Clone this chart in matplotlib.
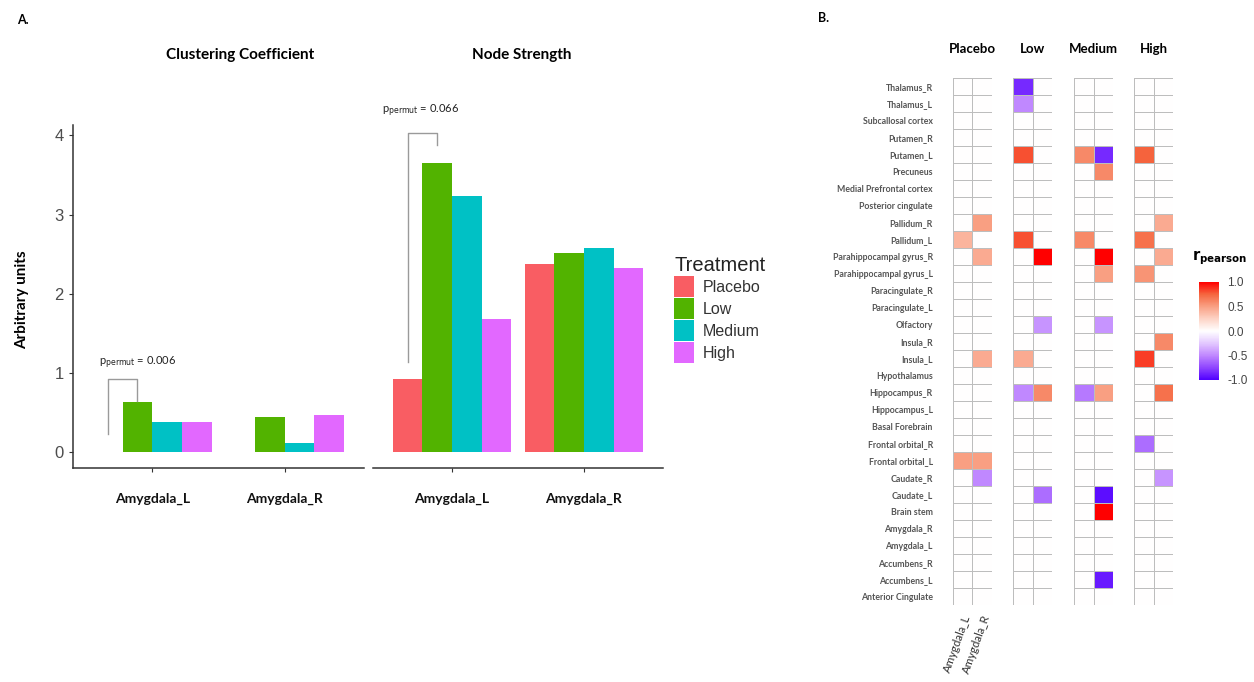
import numpy as np
import matplotlib
matplotlib.use("Agg")
import matplotlib.pyplot as plt
from matplotlib.colors import LinearSegmentedColormap
from matplotlib.patches import Patch

# ---------------- data ----------------
treatments = ["Placebo", "Low", "Medium", "High"]
bar_colors = ["#F95D63", "#52B300", "#00C1C5", "#E268FF"]
regions_bar = ["Amygdala_L", "Amygdala_R"]

cc_amyg_L = [np.nan, 0.63, 0.38, 0.38]
cc_amyg_R = [np.nan, 0.44, 0.11, 0.47]
ns_amyg_L = [0.92, 3.65, 3.24, 1.68]
ns_amyg_R = [2.38, 2.51, 2.58, 2.33]

p_cc = "0.006"
p_ns = "0.066"

rows = ["Thalamus_R", "Thalamus_L", "Subcallosal cortex", "Putamen_R", "Putamen_L",
        "Precuneus", "Medial Prefrontal cortex", "Posterior cingulate", "Pallidum_R",
        "Pallidum_L", "Parahippocampal gyrus_R", "Parahippocampal gyrus_L",
        "Paracingulate_R", "Paracingulate_L", "Olfactory", "Insula_R", "Insula_L",
        "Hypothalamus", "Hippocampus_R", "Hippocampus_L", "Basal Forebrain",
        "Frontal orbital_R", "Frontal orbital_L", "Caudate_R", "Caudate_L",
        "Brain stem", "Amygdala_R", "Amygdala_L", "Accumbens_R", "Accumbens_L",
        "Anterior Cingulate"]
cols = ["Amygdala_L", "Amygdala_R"]

#                 ThR  ThL  Sub  PuR  PuL  Pre  mPF  PCC  PaR  PaL  PhR  PhL  PcR  PcL  Olf  InR  InL  Hyp  HiR  HiL  BF   FoR  FoL  CaR  CaL  BS   AmR  AmL  AcR  AcL  ACC
placebo_L = [0,   0,   0,   0,   0,   0,   0,   0,   0,   0.4, 0,   0,   0,   0,   0,   0,   0,   0,   0,   0,   0,   0,   0.5, 0,   0,   0,   0,   0,   0,   0,   0]
placebo_R = [0,   0,   0,   0,   0,   0,   0,   0,   0.5, 0,   0.45,0,   0,   0,   0,   0,   0.45,0,   0,   0,   0,   0,   0.5, -0.5,0,   0,   0,   0,   0,   0,   0]
low_L     = [-0.85,-0.5,0,  0,   0.8, 0,   0,   0,   0,   0.8, 0,   0,   0,   0,   0,   0,   0.45,0,   -0.5,0,   0,   0,   0,   0,   0,   0,   0,   0,   0,   0,   0]
low_R     = [0,   0,   0,   0,   0,   0,   0,   0,   0,   0,   1.0, 0,   0,   0,   -0.45,0,  0,   0,   0.6, 0,   0,   0,   0,   0,   -0.6,0,   0,   0,   0,   0,   0]
medium_L  = [0,   0,   0,   0,   0.6, 0,   0,   0,   0,   0.6, 0,   0,   0,   0,   0,   0,   0,   0,   -0.55,0,  0,   0,   0,   0,   0,   0,   0,   0,   0,   0,   0]
medium_R  = [0,   0,   0,   0,   -0.85,0.6,0,   0,   0,   0,   1.0, 0.5, 0,   0,   -0.45,0,  0,   0,   0.5, 0,   0,   0,   0,   0,   -0.95,1.0, 0,   0,   0,   -0.9,0]
high_L    = [0,   0,   0,   0,   0.75,0,   0,   0,   0,   0.7, 0,   0.55,0,   0,   0,   0,   0.85,0,   0,   0,   0,   -0.6,0,   0,   0,   0,   0,   0,   0,   0,   0]
high_R    = [0,   0,   0,   0,   0,   0,   0,   0,   0.45,0,   0.45,0,   0,   0,   0,   0.6, 0,   0,   0.7, 0,   0,   0,   0,   -0.45,0,  0,   0,   0,   0,   0,   0]

heat_groups = {"Placebo": (placebo_L, placebo_R), "Low": (low_L, low_R),
               "Medium": (medium_L, medium_R), "High": (high_L, high_R)}

# ---------------- figure ----------------
W, H = 1254, 682
plt.rcParams["font.family"] = ["Lato", "DejaVu Sans"]
fig = plt.figure(figsize=(W / 100, H / 100), dpi=100)


def rect(x0, y0, x1, y1):
    return [x0 / W, 1 - y1 / H, (x1 - x0) / W, (y1 - y0) / H]


def fx(x):
    return x / W


def fy(y):
    return 1 - y / H


ymin, ymax = -0.2, 4.13
offsets = np.array([-0.3375, -0.1125, 0.1125, 0.3375])
bw = 0.225
xpos = np.arange(1, len(regions_bar) + 1)

ax1 = fig.add_axes(rect(73, 125, 364, 468))
ax2 = fig.add_axes(rect(373, 125, 663, 468))

for ax, (vl, vr) in ((ax1, (cc_amyg_L, cc_amyg_R)), (ax2, (ns_amyg_L, ns_amyg_R))):
    for i, t in enumerate(treatments):
        vals = [vl[i], vr[i]]
        ax.bar(xpos + offsets[i], vals, width=bw, color=bar_colors[i], label=t)
    ax.set_xlim(0.4, 2.6)
    ax.set_ylim(ymin, ymax)
    ax.set_xticks(xpos)
    ax.set_xticklabels(regions_bar, fontsize=10, fontweight="bold", color="#111111")
    ax.tick_params(axis="x", length=3, width=0.8, color="#333333", pad=15)
    for s in ["top", "right"]:
        ax.spines[s].set_visible(False)
    ax.spines["bottom"].set_color("#333333")
    ax.spines["bottom"].set_linewidth(1.1)

ax1.spines["left"].set_color("#333333")
ax1.spines["left"].set_linewidth(1.1)
ax1.set_yticks([0, 1, 2, 3, 4])
ax1.tick_params(axis="y", length=3, width=0.8, color="#333333", labelsize=12,
                labelcolor="#4D4D4D", labelfontfamily="Liberation Sans")
ax2.spines["left"].set_visible(False)
ax2.set_yticks([])

# significance brackets
gray = "#9A9A9A"
x_left = 1 + offsets[0]
x_right = 1 + offsets[1]
ax1.plot([x_left, x_left, x_right, x_right], [0.23, 0.92, 0.92, 0.65], color=gray, lw=1)
ax1.text(0.60, 1.13, r"p$_{\mathrm{permut}}$ = " + p_cc, fontsize=8, color="#222222",
         va="center", ha="left")
ax2.plot([x_left, x_left, x_right, x_right], [1.14, 4.03, 4.03, 3.88], color=gray, lw=1,
         clip_on=False)
ax2.text(0.47, 4.31, r"p$_{\mathrm{permut}}$ = " + p_ns, fontsize=8, color="#222222",
         va="center", ha="left", clip_on=False)

fig.text(fx(240), fy(55), "Clustering Coefficient", fontsize=11, fontweight="bold",
         ha="center", va="center")
fig.text(fx(522), fy(55), "Node Strength", fontsize=11, fontweight="bold",
         ha="center", va="center")
fig.text(fx(22), fy(300), "Arbitrary units", fontsize=11, fontweight="bold",
         rotation=90, ha="center", va="center")
fig.text(fx(17), fy(20), "A.", fontsize=9, fontweight="bold", ha="left", va="center")
fig.text(fx(818), fy(18), "B.", fontsize=9, fontweight="bold", ha="left", va="center")

handles = [Patch(facecolor=c, edgecolor="none") for c in bar_colors]
leg = fig.legend(handles, treatments, loc="upper left",
                 bbox_to_anchor=(fx(668), fy(250)), frameon=False,
                 title="Treatment", title_fontsize=14.5,
                 handlelength=1.25, handleheight=1.64, handletextpad=0.55,
                 labelspacing=0.06, borderaxespad=0,
                 prop={"family": "Liberation Sans", "size": 11.5})
leg.get_title().set_family("Liberation Sans")
leg.get_title().set_color("#222222")
for t in leg.get_texts():
    t.set_color("#333333")
leg._legend_box.align = "left"

# ---------------- heatmap ----------------
cmap = LinearSegmentedColormap.from_list(
    "rb", [(0.0, "#5000FF"), (0.125, "#8F45FF"), (0.25, "#C087FF"),
           (0.375, "#E3C8FF"), (0.5, "#FFFFFF"), (0.625, "#FDD3C5"),
           (0.75, "#F9A084"), (0.875, "#F5663F"), (1.0, "#FF0000")])

group_x = {"Placebo": 953, "Low": 1013, "Medium": 1074, "High": 1134}
cell_w = 19.5
top, bottom = 77.7, 605
mesh = None
for gi, (g, (cl, cr)) in enumerate(heat_groups.items()):
    x0 = group_x[g]
    ax = fig.add_axes(rect(x0, top, x0 + 2 * cell_w, bottom))
    data = np.column_stack([cl, cr])
    mesh = ax.pcolormesh(np.arange(3), np.arange(len(rows) + 1), data, cmap=cmap,
                         vmin=-1, vmax=1, edgecolors="#BDBDBD", linewidth=0.6)
    ax.set_xlim(0, 2)
    ax.set_ylim(len(rows), 0)
    for s in ax.spines.values():
        s.set_visible(False)
    ax.tick_params(length=0)
    ax.set_title(g, fontsize=9.5, fontweight="bold", pad=18)
    if gi == 0:
        ax.set_yticks(np.arange(len(rows)) + 0.5)
        ax.set_yticklabels(rows, fontsize=6.3, fontweight="bold", color="#555555")
        ax.tick_params(axis="y", pad=14.5)
        ax.set_xticks(np.arange(2) + 0.5)
        ax.set_xticklabels(cols, fontsize=8.3, rotation=70, ha="right", va="top",
                           rotation_mode="anchor", color="#333333")
        ax.tick_params(axis="x", pad=6)
    else:
        ax.set_yticks([])
        ax.set_xticks([])

cax = fig.add_axes(rect(1199, 282, 1219, 380))
cb = fig.colorbar(mesh, cax=cax, ticks=[-1, -0.5, 0, 0.5, 1])
cb.outline.set_visible(False)
cb.ax.tick_params(length=0, labelsize=8.5, labelcolor="#444444", pad=6)
cb.ax.set_yticklabels(["-1.0", "-0.5", "0.0", "0.5", "1.0"], family="Liberation Sans")
fig.text(fx(1192), fy(258), r"$\mathbf{r}_{\mathbf{pearson}}$", fontsize=10.5,
         ha="left", va="center")

fig.savefig("out.png", dpi=100)
